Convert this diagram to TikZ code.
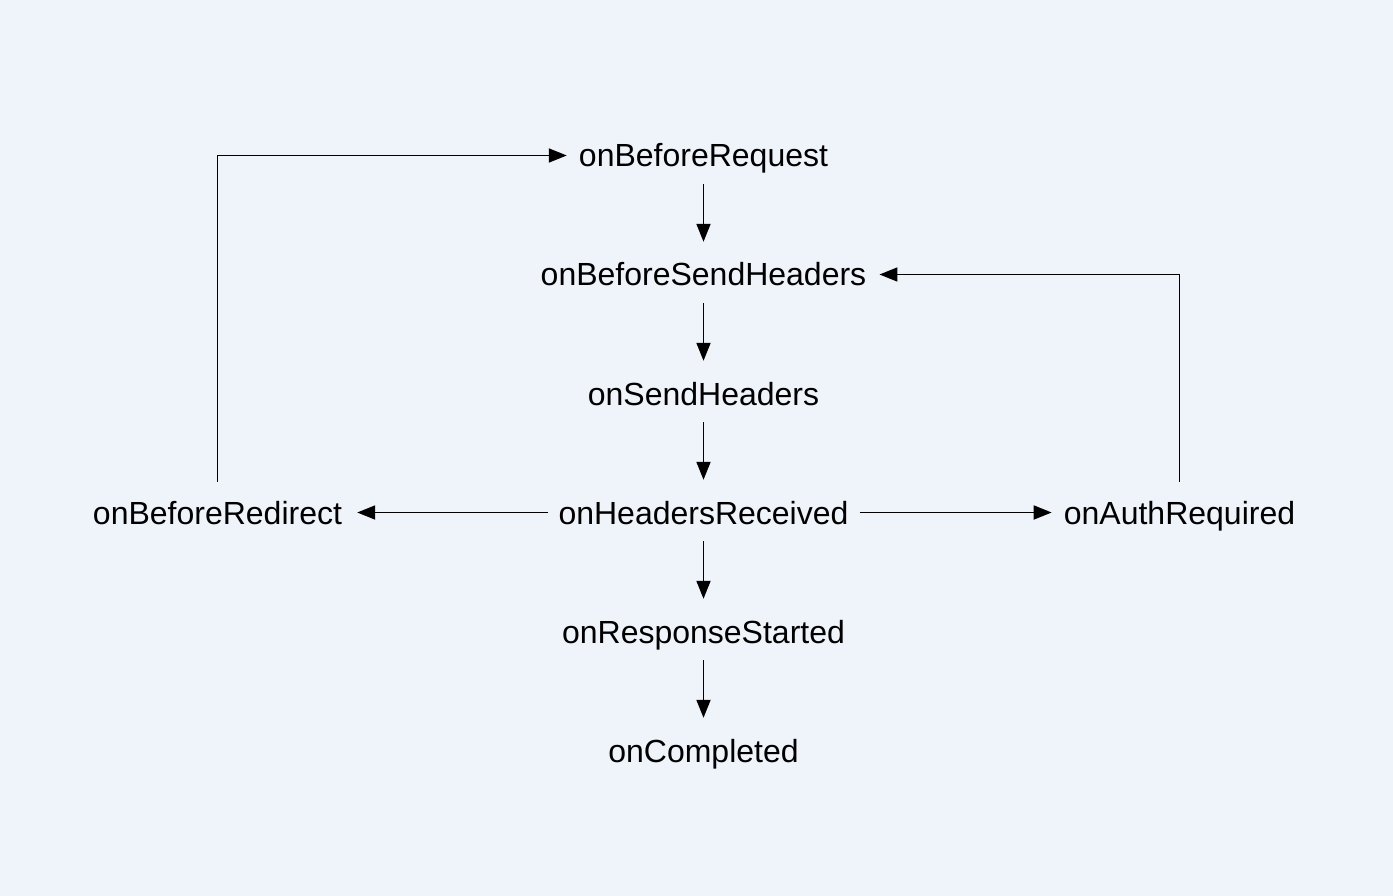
\documentclass[tikz,border=0pt]{standalone}
\usepackage{fontspec}
\setmainfont{Liberation Sans}
\usetikzlibrary{arrows.meta}
\definecolor{bgcol}{RGB}{239,243,250}
\tikzset{
  ev/.style={inner sep=0pt, text height=23pt, text depth=0pt, anchor=base,
    font=\fontsize{32}{38}\selectfont},
  conn/.style={line width=1.8pt, -{Triangle[length=18pt,width=14pt]}},
  vconn/.style={conn, shorten <=17pt, shorten >=21pt},
}
\begin{document}
\begin{tikzpicture}[x=1pt,y=-1pt]
\fill[bgcol] (0,0) rectangle (1393,896);
\useasboundingbox (0,0) rectangle (1393,896);
\node[ev] (req) at (703.5,167) {onBeforeRequest};
\node[ev] (bsh) at (703.5,286) {onBeforeSendHeaders};
\node[ev] (sh) at (703.5,405) {onSendHeaders};
\node[ev] (hr) at (703.5,524) {onHeadersReceived};
\node[ev] (rs) at (703.5,643) {onResponseStarted};
\node[ev] (co) at (703.5,762) {onCompleted};
\node[ev] (red) at (217.5,524) {onBeforeRedirect};
\node[ev] (auth) at (1179.5,524) {onAuthRequired};
\draw[vconn] (req.south) -- (bsh.north);
\draw[vconn] (bsh.south) -- (sh.north);
\draw[vconn] (sh.south) -- (hr.north);
\draw[vconn] (hr.south) -- (rs.north);
\draw[vconn] (rs.south) -- (co.north);
\draw[conn, shorten <=10pt, shorten >=15pt] (hr.west) -- (red.east);
\draw[conn, shorten <=11pt, shorten >=12pt] (hr.east) -- (auth.west);
\draw[conn, shorten <=19pt, shorten >=12pt] (red.north) |- (req.west);
\draw[conn, shorten <=19pt, shorten >=13pt] (auth.north) |- (bsh.east);
\end{tikzpicture}
\end{document}
